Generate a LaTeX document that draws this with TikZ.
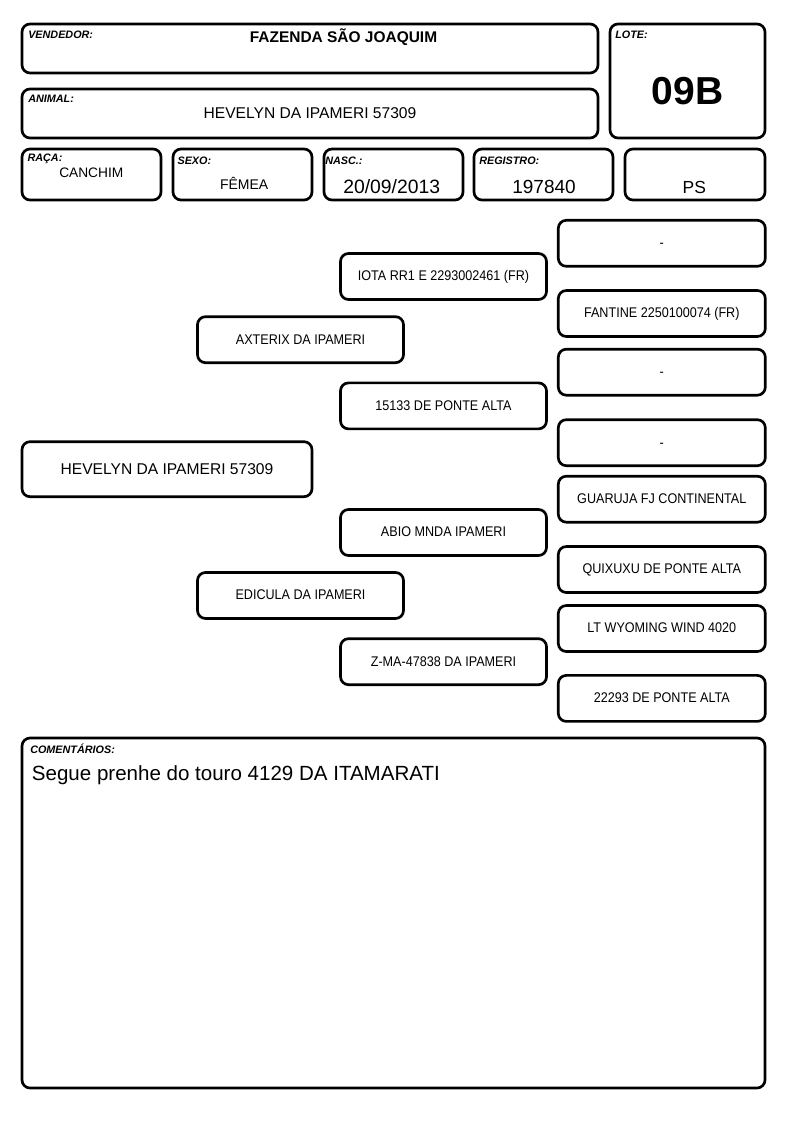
\documentclass[tikz,border=0pt]{standalone}
\usepackage{fontspec}
\setmainfont{Liberation Sans}
\newfontfamily\estreita[FakeStretch=0.9]{Liberation Sans}
\usepackage{tikz}
\pgfdeclarelayer{nodelayer}
\pgfsetlayers{main,nodelayer}
\tikzset{campo/.style={draw, rounded corners=6pt, line width=2pt, inner sep=0pt}}
\tikzset{ped/.style={campo, minimum width=155.25pt, minimum height=34.5pt,
font=\estreita\fontsize{10.5}{12}\selectfont, text height=1.5ex, text depth=.25ex}}
\tikzset{linha/.style={campo, minimum width=104.25pt, minimum height=38.25pt}}
\tikzset{rotulo/.style={anchor=base west, inner sep=0pt, font=\bfseries\itshape\fontsize{8.1}{9}\selectfont}}
\tikzset{valor/.style={anchor=base, inner sep=0pt}}

\begin{document}
\begin{tikzpicture}[x=0.75pt, y=-0.75pt]
	\useasboundingbox (0, 0) rectangle (794, 1123);
	\begin{pgfonlayer}{nodelayer}
		% cabecalho
		\node [style=campo, minimum width=432pt, minimum height=36.75pt] (0) at (310, 48.5) {};
		\node [style=campo, minimum width=116.25pt, minimum height=85.5pt] (1) at (687.5, 81) {};
		\node [style=campo, minimum width=432pt, minimum height=36.75pt] (2) at (310, 113.5) {};
		\node [style=linha] (3) at (91.5, 174.5) {};
		\node [style=linha] (4) at (242.5, 174.5) {};
		\node [style=linha] (5) at (393.5, 174.5) {};
		\node [style=linha] (6) at (543.5, 174.5) {};
		\node [style=linha, minimum width=105pt] (7) at (695, 174.5) {};
		\node [style=campo, minimum width=557.25pt, minimum height=262.5pt] (8) at (393.5, 913) {};
		\node [style=rotulo] (9) at (28, 39) {VENDEDOR:};
		\node [style=rotulo] (10) at (615, 39) {LOTE:};
		\node [style=rotulo] (11) at (28, 103) {ANIMAL:};
		\node [style=rotulo] (12) at (27.3, 162) {RAÇA:};
		\node [style=rotulo] (13) at (177.3, 165) {SEXO:};
		\node [style=rotulo] (14) at (325, 165) {NASC.:};
		\node [style=rotulo] (15) at (479, 165) {REGISTRO:};
		\node [style=rotulo] (16) at (30, 753) {COMENTÁRIOS:};
		\node [style=valor, font=\bfseries\fontsize{11.6}{14}\selectfont] (17) at (343.5, 43) {FAZENDA SÃO JOAQUIM};
		\node [style=valor, font=\bfseries\fontsize{29.25}{34}\selectfont] (18) at (687.5, 105) {09B};
		\node [style=valor, font=\fontsize{11.7}{14}\selectfont] (19) at (310, 119) {HEVELYN DA IPAMERI 57309};
		\node [style=valor, font=\fontsize{10.3}{12}\selectfont] (20) at (91.3, 178) {CANCHIM};
		\node [style=valor, font=\fontsize{10.5}{12}\selectfont] (21) at (244.2, 189.3) {FÊMEA};
		\node [style=valor, font=\fontsize{14.5}{17}\selectfont] (22) at (391.7, 193.3) {20/09/2013};
		\node [style=valor, font=\fontsize{14.25}{17}\selectfont] (23) at (544, 193.3) {197840};
		\node [style=valor, font=\fontsize{13.1}{16}\selectfont] (24) at (694.3, 193.3) {PS};
		\node [style=valor, anchor=base west, font=\fontsize{15.4}{18}\selectfont] (25) at (31.7, 780) {Segue prenhe do touro 4129 DA ITAMARATI};
		% genealogia
		\node [style=campo, minimum width=217.5pt, minimum height=41.25pt, font=\fontsize{11.7}{14}\selectfont] (26) at (167, 469.2) {HEVELYN DA IPAMERI 57309};
		\node [style=ped, minimum width=154.5pt] (27) at (300.5, 339.7) {AXTERIX DA IPAMERI};
		\node [style=ped, minimum width=154.5pt] (28) at (300.5, 595.5) {EDICULA DA IPAMERI};
		\node [style=ped, minimum width=154.5pt] (29) at (443.5, 276.5) {IOTA RR1 E 2293002461 (FR)};
		\node [style=ped, minimum width=154.5pt] (30) at (443.5, 405.9) {15133 DE PONTE ALTA};
		\node [style=ped, minimum width=154.5pt] (31) at (443.5, 532.5) {ABIO MNDA IPAMERI};
		\node [style=ped, minimum width=154.5pt] (32) at (443.5, 661.7) {Z-MA-47838 DA IPAMERI};
		\node [style=ped] (33) at (661.8, 243.3) {-};
		\node [style=ped] (34) at (661.8, 313.5) {FANTINE 2250100074 (FR)};
		\node [style=ped] (35) at (661.8, 372.2) {-};
		\node [style=ped] (36) at (661.8, 442.7) {-};
		\node [style=ped] (37) at (661.8, 499.2) {GUARUJA FJ CONTINENTAL};
		\node [style=ped] (38) at (661.8, 569.5) {QUIXUXU DE PONTE ALTA};
		\node [style=ped] (39) at (661.8, 628.5) {LT WYOMING WIND 4020};
		\node [style=ped] (40) at (661.8, 698.4) {22293 DE PONTE ALTA};
	\end{pgfonlayer}
\end{tikzpicture}
\end{document}
